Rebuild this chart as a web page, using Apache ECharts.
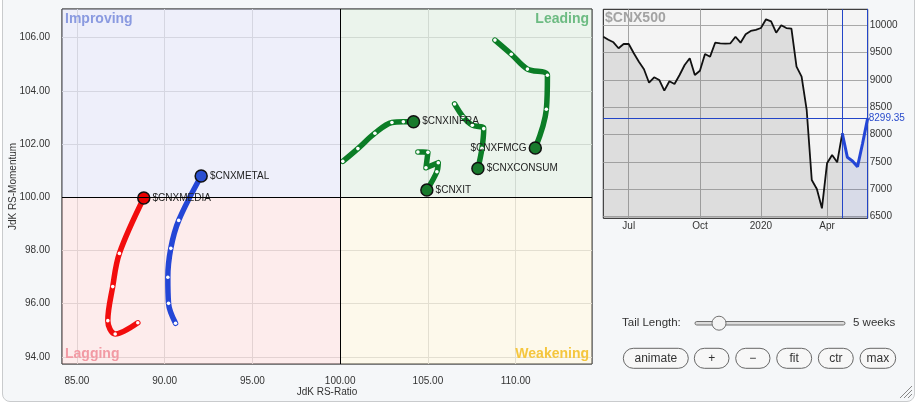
<!DOCTYPE html>
<html><head><meta charset="utf-8">
<script src="https://cdn.jsdelivr.net/npm/echarts@6/dist/echarts.min.js"></script>
<style>
html,body{margin:0;padding:0;background:#fff;width:917px;height:403px;overflow:hidden;font-family:Arial,"Liberation Sans",sans-serif;}
#frame{position:absolute;left:2px;top:-10px;width:913px;height:412px;border:1px solid #c9cbcd;border-radius:8px;background:#f5f7f9;box-sizing:border-box;}
#chart{position:absolute;left:0;top:0;width:917px;height:403px;}
</style></head><body>
<div id="frame"></div><div id="chart"></div>
<script>
// ---------- DATA ----------
const ratioTicks = [85, 90, 95, 100, 105, 110];
const momentumTicks = [94, 96, 98, 100, 102, 104, 106];

// tails: oldest -> newest (5 weeks = 6 points)
const mediaRatio    = [88.47, 87.18, 86.76, 87.04, 87.42, 88.81];
const mediaMomentum = [95.28, 94.86, 95.36, 96.64, 97.89, 99.97];
const metalRatio    = [90.62, 90.22, 90.18, 90.35, 90.80, 92.08];
const metalMomentum = [95.26, 96.01, 96.99, 98.08, 99.13, 100.80];
const infraRatio    = [100.15, 101.01, 101.98, 102.95, 103.60, 104.18];
const infraMomentum = [101.35, 101.83, 102.41, 102.81, 102.84, 102.84];
const itRatio       = [104.43, 105.00, 104.89, 105.59, 105.51, 104.94];
const itMomentum    = [101.70, 101.69, 101.11, 101.30, 100.96, 100.27];
const consumRatio   = [106.52, 107.00, 107.53, 108.18, 108.08, 107.85];
const consumMomentum= [103.51, 103.03, 102.71, 102.58, 101.84, 101.08];
const fmcgRatio     = [108.82, 109.75, 110.67, 111.81, 111.75, 111.12];
const fmcgMomentum  = [105.91, 105.38, 104.82, 104.59, 103.31, 101.85];

const quadrantNames = ['Improving', 'Leading', 'Lagging', 'Weakening'];

// $CNX500 weekly closes
const cnx500Close = [9791,9736,9688,9579,9657,9657,9487,9333,9194,8948,9047,8998,8802,8974,8925,9089,9273,9395,9089,9168,9474,9425,9681,9670,9663,9670,9790,9681,9835,9896,9917,9950,10110,10073,9864,10000,9950,9938,9242,9058,8449,7166,7001,6647,7472,7624,7490,8021,7582,7514,7410,7838,8299.35];
const priceTicks = [6500, 7000, 7500, 8000, 8500, 9000, 9500, 10000];
const miniTickIndex = [5, 19, 31, 44];
const miniTickText = ['Jul', 'Oct', '2020', 'Apr'];
const tailWeeks = 5;
const startDate = '2019-05-31';

// ---------- BUILD ----------
const FONT = 'Arial, "Liberation Sans", sans-serif';
const weekDates = [];
{
  const d0 = new Date(startDate + 'T00:00:00Z');
  for (let i = 0; i < cnx500Close.length; i++) {
    const d = new Date(d0.getTime() + i * 7 * 86400000);
    weekDates.push(d.toISOString().slice(0, 10));
  }
}
const lastIdx = cnx500Close.length - 1;
const tailStart = lastIdx - tailWeeks;
const lastPrice = cnx500Close[lastIdx];

const X_MIN = 84.15, X_MAX = 114.35, Y_MIN = 93.73, Y_MAX = 107.08;

const sectors = [
  {name: '$CNXMEDIA', ratio: mediaRatio, momentum: mediaMomentum, color: '#f20d0d', head: '#e80000', pos: 'right'},
  {name: '$CNXMETAL', ratio: metalRatio, momentum: metalMomentum, color: '#2446d6', head: '#2a4fd0', pos: 'right'},
  {name: '$CNXINFRA', ratio: infraRatio, momentum: infraMomentum, color: '#0b7d26', head: '#187a2c', pos: 'right'},
  {name: '$CNXIT', ratio: itRatio, momentum: itMomentum, color: '#0b7d26', head: '#187a2c', pos: 'right'},
  {name: '$CNXCONSUM', ratio: consumRatio, momentum: consumMomentum, color: '#0b7d26', head: '#187a2c', pos: 'right'},
  {name: '$CNXFMCG', ratio: fmcgRatio, momentum: fmcgMomentum, color: '#0b7d26', head: '#187a2c', pos: 'left'}
];

const qLabel = (txt, color, pos) => ({show: true, position: pos, distance: 3, formatter: txt, color: color, fontSize: 14, fontWeight: 'bold', fontFamily: FONT});

const sectorSeries = sectors.map(s => ({
  type: 'line', name: s.name, xAxisIndex: 0, yAxisIndex: 0, z: 3,
  smooth: 0.35, showAllSymbol: true, symbol: 'circle', symbolSize: 3.6,
  animation: false, emphasis: {disabled: true},
  lineStyle: {color: s.color, width: 5.5, type: 'solid', cap: 'round', join: 'round'},
  itemStyle: {color: '#ffffff', borderColor: '#ffffff', borderWidth: 0},
  data: s.ratio.map((x, i) => {
    const item = {value: [x, s.momentum[i]]};
    if (i === s.ratio.length - 1) {
      item.symbolSize = 12;
      item.itemStyle = {color: s.head, borderColor: '#111', borderWidth: 1.5};
      item.label = {show: true, position: s.pos, distance: 2, formatter: s.name, fontSize: 10, color: '#222', fontFamily: FONT};
    }
    return item;
  })
}));

const buttons = [['animate', 623.3, 688.3], ['+', 694.3, 729], ['\u2212', 735.7, 770], ['fit', 776.7, 811.7], ['ctr', 818.3, 853.3], ['max', 860, 895.7]];
const graphics = [
  {type: 'text', left: 605, top: 11, z: 100, style: {text: '$CNX500', fill: '#a3a3a3', font: 'bold 14px ' + FONT}},
  {type: 'text', x: 622, y: 323, style: {text: 'Tail Length:', fill: '#333', font: '11.5px ' + FONT, verticalAlign: 'middle'}},
  {type: 'rect', shape: {x: 695, y: 321.5, width: 150, height: 3.5, r: 1.75}, style: {fill: '#dcdcdc', stroke: '#707070', lineWidth: 1}},
  {type: 'circle', shape: {cx: 719, cy: 323.2, r: 7}, style: {fill: '#f4f4f4', stroke: '#707070', lineWidth: 1}},
  {type: 'text', x: 853, y: 323, style: {text: '5 weeks', fill: '#333', font: '11.5px ' + FONT, verticalAlign: 'middle'}},
  {type: 'line', shape: {x1: 912, y1: 386, x2: 900, y2: 398}, style: {stroke: '#888', lineWidth: 1}},
  {type: 'line', shape: {x1: 912, y1: 390, x2: 904, y2: 398}, style: {stroke: '#888', lineWidth: 1}},
  {type: 'line', shape: {x1: 912, y1: 394, x2: 908, y2: 398}, style: {stroke: '#888', lineWidth: 1}}
];
buttons.forEach(([t, x0, x1]) => {
  graphics.push({type: 'rect', shape: {x: x0, y: 348.3, width: x1 - x0, height: 20, r: 10}, style: {fill: '#f7f7f7', stroke: '#666', lineWidth: 1}});
  graphics.push({type: 'text', x: (x0 + x1) / 2, y: 358.5, style: {text: t, fill: '#333', font: '12px ' + FONT, align: 'center', verticalAlign: 'middle'}});
});

const option = {
  animation: false,
  backgroundColor: 'transparent',
  textStyle: {fontFamily: FONT},
  grid: [
    {left: 62, top: 9, width: 530, height: 355, show: true, backgroundColor: '#ffffff', borderColor: '#000', borderWidth: 1, containLabel: false, outerBoundsMode: 'none'},
    {left: 603.3, top: 9.3, width: 264.4, height: 209, show: true, backgroundColor: '#f4f4f4', borderColor: '#111', borderWidth: 1, containLabel: false, outerBoundsMode: 'none'}
  ],
  xAxis: [
    {type: 'value', gridIndex: 0, min: X_MIN, max: X_MAX,
     axisLine: {show: false}, axisTick: {show: false, customValues: ratioTicks},
     axisLabel: {customValues: ratioTicks, formatter: v => v.toFixed(2), color: '#333', fontSize: 10, margin: 12},
     splitLine: {show: true, lineStyle: {color: '#dadada', width: 1}},
     name: 'JdK RS-Ratio', nameLocation: 'middle', nameGap: 23, nameMoveOverlap: false, nameTextStyle: {color: '#333', fontSize: 10}},
    {type: 'category', gridIndex: 1, data: weekDates, boundaryGap: false,
     axisLine: {show: false}, axisTick: {show: false},
     axisLabel: {interval: (i) => miniTickIndex.includes(i), formatter: (v, i) => miniTickText[miniTickIndex.indexOf(i)], color: '#333', fontSize: 10, margin: 3},
     splitLine: {show: true, interval: (i) => miniTickIndex.includes(i), lineStyle: {color: '#a4a4a4', width: 1}}}
  ],
  yAxis: [
    {type: 'value', gridIndex: 0, min: Y_MIN, max: Y_MAX,
     axisLine: {show: false}, axisTick: {show: false, customValues: momentumTicks},
     axisLabel: {customValues: momentumTicks, formatter: v => v.toFixed(2), color: '#333', fontSize: 10, margin: 12},
     splitLine: {show: true, lineStyle: {color: '#dadada', width: 1}},
     name: 'JdK RS-Momentum', nameLocation: 'middle', nameGap: 44, nameMoveOverlap: false, nameRotate: 90, nameTextStyle: {color: '#333', fontSize: 10}},
    {type: 'value', gridIndex: 1, position: 'right', min: 6464, max: 10293,
     axisLine: {show: true, lineStyle: {color: '#2345c8', width: 1}}, axisTick: {show: false, customValues: priceTicks},
     axisLabel: {customValues: priceTicks, formatter: v => String(v), color: '#333', fontSize: 10, margin: 2},
     splitLine: {show: true, lineStyle: {color: '#a8a8a8', width: 1}}}
  ],
  graphic: graphics,
  series: [
    {type: 'scatter', xAxisIndex: 0, yAxisIndex: 0, data: [], z: 1, silent: true,
     markArea: {silent: true, itemStyle: {borderWidth: 0}, data: [
       [{xAxis: X_MIN, yAxis: 100, itemStyle: {color: 'rgba(202,205,238,0.32)'}, label: qLabel(quadrantNames[0], '#8a9ae0', 'insideTopLeft')}, {xAxis: 100, yAxis: Y_MAX}],
       [{xAxis: 100, yAxis: 100, itemStyle: {color: 'rgba(188,218,192,0.3)'}, label: qLabel(quadrantNames[1], '#6cbb82', 'insideTopRight')}, {xAxis: X_MAX, yAxis: Y_MAX}],
       [{xAxis: X_MIN, yAxis: Y_MIN, itemStyle: {color: 'rgba(248,192,192,0.3)'}, label: qLabel(quadrantNames[2], '#f29aa4', 'insideBottomLeft')}, {xAxis: 100, yAxis: 100}],
       [{xAxis: 100, yAxis: Y_MIN, itemStyle: {color: 'rgba(248,236,190,0.3)'}, label: qLabel(quadrantNames[3], '#f5c63e', 'insideBottomRight')}, {xAxis: X_MAX, yAxis: 100}]
     ]},
     markLine: {silent: true, symbol: 'none', label: {show: false}, lineStyle: {color: '#000', width: 1, type: 'solid'}, data: [{xAxis: 100}, {yAxis: 100}]}
    },
    ...sectorSeries,
    {type: 'line', xAxisIndex: 1, yAxisIndex: 1, symbol: 'none', z: 2,
     data: cnx500Close.map((v, i) => i <= tailStart ? v : '-'),
     lineStyle: {color: '#111', width: 1.8}, areaStyle: {color: 'rgba(130,130,130,0.28)', origin: 'start'}},
    {type: 'line', xAxisIndex: 1, yAxisIndex: 1, symbol: 'none', z: 3,
     data: cnx500Close.map((v, i) => i >= tailStart ? v : '-'),
     lineStyle: {color: '#2446d6', width: 3}, areaStyle: {color: 'rgba(50,70,160,0.2)', origin: 'start'},
     markLine: {silent: true, symbol: 'none', lineStyle: {color: '#2345c8', width: 1, type: 'solid'},
       data: [
         {xAxis: weekDates[tailStart], label: {show: false}},
         {yAxis: lastPrice, label: {show: true, position: 'end', distance: 1, formatter: String(lastPrice), color: '#2a4ccc', fontSize: 10, fontFamily: FONT}}
       ]}}
  ]
};

const chart = echarts.init(document.getElementById('chart'), null, {renderer: 'canvas', width: 917, height: 403});
chart.setOption(option);
</script>
</body></html>
